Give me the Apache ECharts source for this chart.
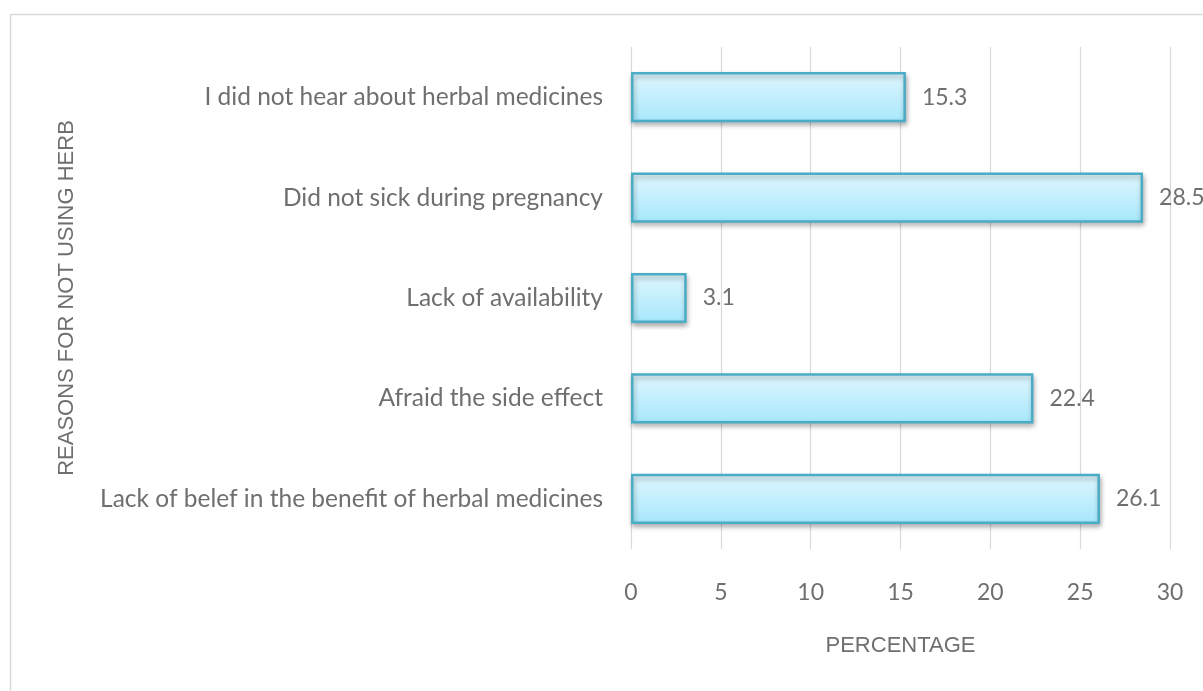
<!DOCTYPE html>
<html>
<head>
<meta charset="utf-8">
<script src="https://cdn.jsdelivr.net/npm/echarts@6/dist/echarts.min.js"></script>
<style>
html,body{margin:0;padding:0;background:#fff;}
#chart{width:1203px;height:691px;}
</style>
</head>
<body>
<div id="chart"></div>
<script>
const categories = [
  "Lack of belef in the benefit of herbal medicines",
  "Afraid the side effect",
  "Lack of availability",
  "Did not sick during pregnancy",
  "I did not hear about herbal medicines"
];
const values = [26.1, 22.4, 3.1, 28.5, 15.3];
const xTicks = { min: 0, max: 30, interval: 5 };
const xName = "PERCENTAGE";
const yName = "REASONS FOR NOT USING HERB";

const chart = echarts.init(document.getElementById('chart'));
const textColor = '#6f6f6f';
const font = 'Lato, "Open Sans", sans-serif';
const nameFont = '"Liberation Sans", Arial, sans-serif';
chart.setOption({
  animation: false,
  graphic: [{
    type: 'rect',
    shape: { x: 10.5, y: 14.5, width: 1220, height: 700 },
    style: { fill: 'none', stroke: '#d9d9d9', lineWidth: 1.5 },
    z: -10
  }],
  grid: { left: 631, right: 33, top: 47, bottom: 142, containLabel: false },
  xAxis: {
    type: 'value',
    min: xTicks.min, max: xTicks.max, interval: xTicks.interval,
    name: xName,
    nameLocation: 'middle',
    nameGap: 86,
    nameTextStyle: { color: textColor, fontSize: 22, fontFamily: nameFont },
    axisLine: { show: false },
    axisTick: { show: false },
    axisLabel: { color: textColor, fontSize: 23, fontFamily: font, margin: 32 },
    splitLine: { show: true, lineStyle: { color: '#d9d9d9', width: 1.2 } }
  },
  yAxis: {
    type: 'category',
    data: categories,
    name: yName,
    nameLocation: 'middle',
    nameGap: 553,
    nameRotate: 90,
    nameTextStyle: { color: textColor, fontSize: 22, fontFamily: nameFont },
    axisLine: { show: false },
    axisTick: { show: false },
    axisLabel: { color: textColor, fontSize: 24.5, fontFamily: font, margin: 28 },
    splitLine: { show: false }
  },
  series: [{
    type: 'bar',
    data: values,
    barWidth: '50%',
    itemStyle: {
      color: new echarts.graphic.LinearGradient(0, 0, 0, 1, [
        { offset: 0, color: '#e0f7fe' },
        { offset: 1, color: '#a6e7fb' }
      ]),
      borderColor: '#4bacc6',
      borderWidth: 2.5,
      shadowColor: 'rgba(0,0,0,0.3)',
      shadowBlur: 5,
      shadowOffsetX: 1,
      shadowOffsetY: 3
    },
    label: {
      show: true,
      position: 'right',
      distance: 16,
      color: textColor,
      fontSize: 23,
      fontFamily: font,
      formatter: p => p.value.toFixed(1)
    }
  }]
});
</script>
</body>
</html>
